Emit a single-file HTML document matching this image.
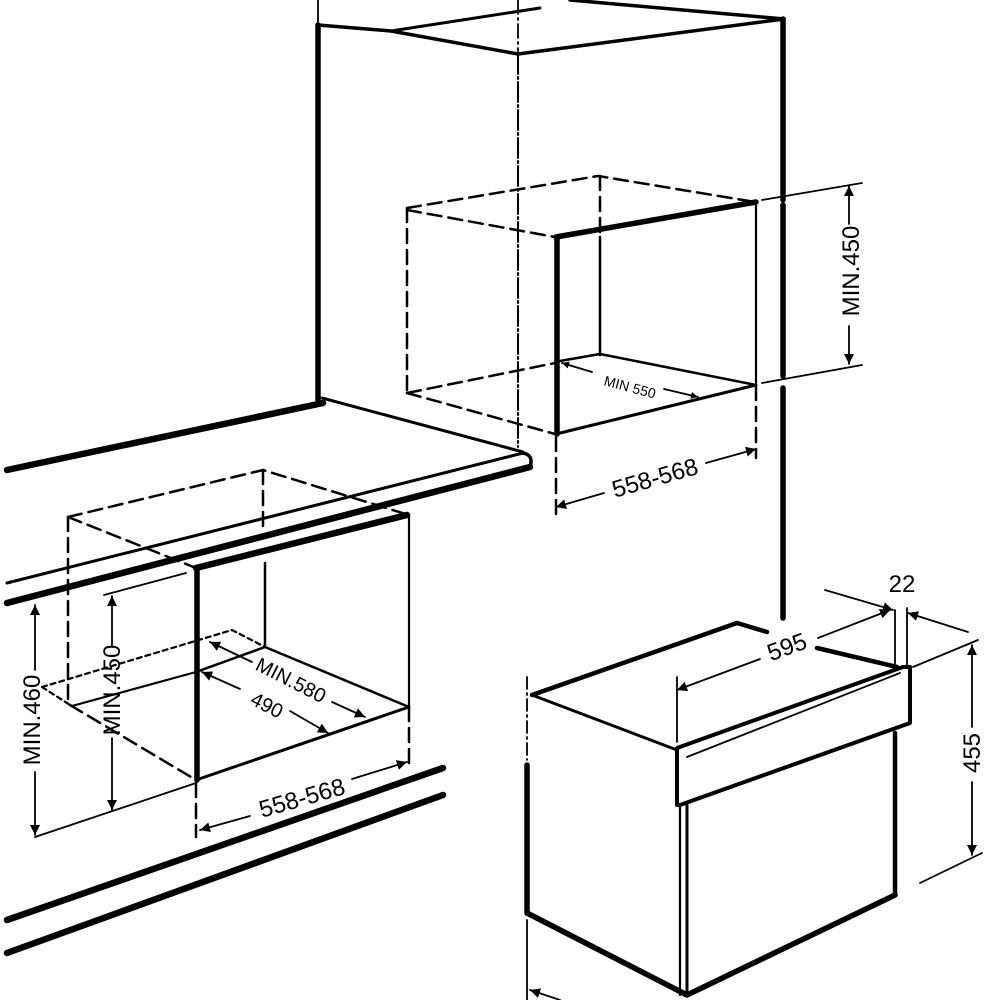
<!DOCTYPE html>
<html><head><meta charset="utf-8"><style>html,body{margin:0;padding:0;background:#fff}svg{display:block}text{font-family:"Liberation Sans",sans-serif;fill:#000}</style></head>
<body>
<svg width="1000" height="1000" viewBox="0 0 1000 1000" xmlns="http://www.w3.org/2000/svg">
<defs><marker id="a" viewBox="0 0 10 10" refX="10" refY="5" markerWidth="9" markerHeight="7" orient="auto-start-reverse" markerUnits="userSpaceOnUse"><path d="M0,0L10,5L0,10z" fill="#000"/></marker>
<marker id="b" viewBox="0 0 10 10" refX="10" refY="5" markerWidth="18" markerHeight="10" orient="auto-start-reverse" markerUnits="userSpaceOnUse"><path d="M0,0L10,5L0,10z" fill="#000"/></marker></defs>
<g fill="none" stroke="#000" stroke-linecap="round" stroke-linejoin="round">
<line x1="318" y1="0" x2="318" y2="25" stroke-width="1.8"/>
<line x1="518" y1="0" x2="518" y2="54" stroke-width="1.8" stroke-dasharray="14 4 2 4"/>
<path d="M318,25 L391,31 L518,54 L784,19" stroke-width="3.5"/>
<path d="M391,31 L540,8" stroke-width="3"/>
<path d="M570,0 L784,19" stroke-width="3.5"/>
<line x1="318" y1="25" x2="318" y2="400" stroke-width="5.5"/>
<line x1="518" y1="54" x2="518" y2="447" stroke-width="2" stroke-dasharray="20 3 2 3"/>
<line x1="783" y1="19" x2="783" y2="200" stroke-width="5.5"/>
<line x1="783" y1="205" x2="783" y2="376" stroke-width="5.5"/>
<line x1="783" y1="388" x2="783" y2="618" stroke-width="5.5"/>
<path d="M7,470 L323,403" stroke-width="6.5"/>
<path d="M322,398 L523,452" stroke-width="3"/>
<path d="M7,583 L523,453" stroke-width="3"/>
<path d="M7,603 L530,467" stroke-width="6.5"/>
<path d="M523,453 Q534,455 530,467" stroke-width="3.5"/>
<g stroke-width="2.5" stroke-dasharray="14 7">
<path d="M407,208 L407,393"/>
<path d="M407,208 L598,176 L755,202"/>
<path d="M407,210 L555,237"/>
<path d="M600,176 L600,236"/>
<path d="M407,393 L555,363"/>
<path d="M407,393 L555,434"/>
<path d="M756,386 L756,458"/>
<path d="M556,437 L556,518"/>
</g>
<path d="M556,237 L756,202" stroke-width="5.5"/>
<line x1="557" y1="237" x2="557" y2="434" stroke-width="5.5"/>
<line x1="600" y1="237" x2="600" y2="355" stroke-width="2.5"/>
<path d="M560,361 L600,354 L756,385" stroke-width="2.5"/>
<path d="M556,434 L756,385" stroke-width="3"/>
<line x1="756" y1="202" x2="756" y2="386" stroke-width="2.2"/>
<line x1="562" y1="363" x2="592" y2="372" stroke-width="1.8" marker-start="url(#a)"/>
<line x1="664" y1="389" x2="698" y2="397" stroke-width="1.8" marker-end="url(#a)"/>
<line x1="556" y1="507" x2="604" y2="493" stroke-width="1.8" marker-start="url(#b)"/>
<line x1="706" y1="463" x2="756" y2="449" stroke-width="1.8" marker-end="url(#b)"/>
<line x1="762" y1="200" x2="862" y2="183" stroke-width="1.8"/>
<line x1="762" y1="383" x2="862" y2="365" stroke-width="1.8"/>
<line x1="849" y1="186" x2="849" y2="224" stroke-width="1.8" marker-start="url(#b)"/>
<line x1="849" y1="326" x2="849" y2="364" stroke-width="1.8" marker-end="url(#b)"/>
<g stroke-width="2.5" stroke-dasharray="14 7">
<path d="M68,517 L263,470 L409,515"/>
<path d="M68,517 L68,703"/>
<path d="M68,517 L196,568"/>
<path d="M263,470 L263,528"/>
<path d="M70,705 L196,780"/>
<path d="M409,707 L409,767"/>
<path d="M196,783 L196,837"/>
</g>
<path d="M42,687 L232,630 L265,647 M42,687 L70,705" stroke-width="2.2" stroke-dasharray="5 4"/>
<path d="M72,706 L196,672" stroke-width="2.2"/>
<path d="M196,568 L407,515" stroke-width="6.5"/>
<line x1="197" y1="568" x2="197" y2="780" stroke-width="5.5"/>
<line x1="265" y1="563" x2="265" y2="647" stroke-width="2.5"/>
<line x1="409" y1="515" x2="409" y2="707" stroke-width="2.2"/>
<path d="M196,672 L265,647 L409,707" stroke-width="2.5"/>
<path d="M196,780 L409,707" stroke-width="3"/>
<line x1="210" y1="642" x2="252" y2="662" stroke-width="1.8" marker-start="url(#b)"/>
<line x1="332" y1="702" x2="365" y2="717" stroke-width="1.8" marker-end="url(#b)"/>
<line x1="202" y1="672" x2="240" y2="689" stroke-width="1.8" marker-start="url(#b)"/>
<line x1="290" y1="711" x2="328" y2="733" stroke-width="1.8" marker-end="url(#b)"/>
<line x1="200" y1="830" x2="250" y2="816" stroke-width="1.8" marker-start="url(#b)"/>
<line x1="352" y1="779" x2="407" y2="762" stroke-width="1.8" marker-end="url(#b)"/>
<line x1="35" y1="837" x2="196" y2="783" stroke-width="1.8"/>
<line x1="35" y1="605" x2="35" y2="670" stroke-width="1.8" marker-start="url(#b)"/>
<line x1="35" y1="772" x2="35" y2="835" stroke-width="1.8" marker-end="url(#b)"/>
<line x1="104" y1="595" x2="186" y2="573" stroke-width="1.8"/>
<line x1="112" y1="596" x2="112" y2="645" stroke-width="1.8" marker-start="url(#b)"/>
<line x1="112" y1="738" x2="112" y2="810" stroke-width="1.8" marker-end="url(#b)"/>
<path d="M7,920 L443,768" stroke-width="6.5"/>
<path d="M7,953 L443,795" stroke-width="6.5"/>
<line x1="527" y1="677" x2="527" y2="760" stroke-width="1.8" stroke-dasharray="12 4 2 4"/>
<line x1="527" y1="765" x2="527" y2="912" stroke-width="5.5"/>
<path d="M532,695 L737,623 L767,632" stroke-width="4.5"/>
<path d="M817,648 L897,667" stroke-width="4.5"/>
<path d="M532,695 L677,750" stroke-width="3"/>
<path d="M527,913 L687,995 L895,895" stroke-width="5.5"/>
<line x1="895" y1="733" x2="895" y2="895" stroke-width="4.5"/>
<path d="M677,748 L903,667 L910,667 L910,723 L680,805 L677,805 Z" stroke-width="4"/>
<path d="M687,757 L900,673" stroke-width="1.8"/>
<line x1="680" y1="805" x2="680" y2="995" stroke-width="2.2"/>
<line x1="687" y1="805" x2="687" y2="995" stroke-width="3"/>
<line x1="677" y1="677" x2="677" y2="742" stroke-width="1.8"/>
<line x1="677" y1="690" x2="760" y2="659" stroke-width="1.8" marker-start="url(#b)"/>
<line x1="818" y1="638" x2="890" y2="610" stroke-width="1.8" marker-end="url(#b)"/>
<line x1="895" y1="610" x2="895" y2="667" stroke-width="1.8"/>
<line x1="907" y1="608" x2="907" y2="667" stroke-width="1.8"/>
<line x1="825" y1="590" x2="893" y2="610" stroke-width="1.8" marker-end="url(#b)"/>
<line x1="968" y1="632" x2="908" y2="613" stroke-width="1.8" marker-end="url(#b)"/>
<line x1="913" y1="667" x2="978" y2="640" stroke-width="1.8"/>
<line x1="920" y1="883" x2="982" y2="853" stroke-width="1.8"/>
<line x1="972" y1="645" x2="972" y2="727" stroke-width="1.8" marker-start="url(#b)"/>
<line x1="972" y1="782" x2="972" y2="855" stroke-width="1.8" marker-end="url(#b)"/>
<line x1="527" y1="920" x2="527" y2="1000" stroke-width="1.8"/>
<line x1="560" y1="1000" x2="530" y2="990" stroke-width="1.8" marker-end="url(#b)"/>
</g>
<g font-size="24">
<text x="630" y="392" font-size="14" transform="rotate(15 630 387)" text-anchor="middle">MIN 550</text>
<text x="655" y="486" text-anchor="middle" transform="rotate(-16 655 478)">558-568</text>
<text x="851" y="279" text-anchor="middle" transform="rotate(-90 851 271)">MIN.450</text>
<text x="291" y="687" font-size="20" text-anchor="middle" transform="rotate(27 291 680)">MIN.580</text>
<text x="267" y="712" font-size="20" text-anchor="middle" transform="rotate(27 267 705)">490</text>
<text x="302" y="806" text-anchor="middle" transform="rotate(-16 302 798)">558-568</text>
<text x="32" y="728" text-anchor="middle" transform="rotate(-90 32 720)">MIN.460</text>
<text x="112" y="698" text-anchor="middle" transform="rotate(-90 112 690)">MIN.450</text>
<text x="787" y="655" text-anchor="middle" transform="rotate(-20 787 647)">595</text>
<text x="902" y="592" text-anchor="middle">22</text>
<text x="972" y="761" text-anchor="middle" transform="rotate(-90 972 753)">455</text>
</g>
</svg>
</body></html>
